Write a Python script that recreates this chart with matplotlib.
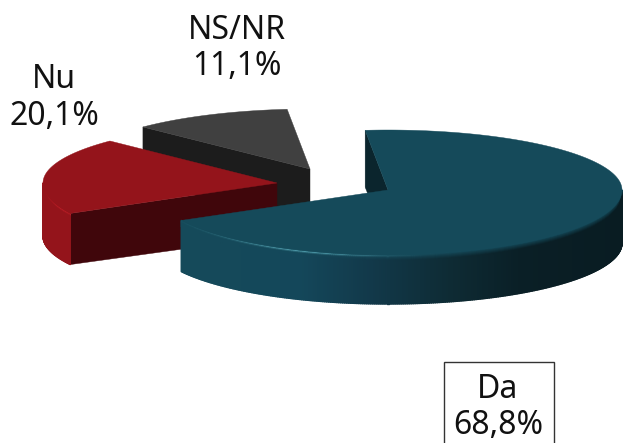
import numpy as np
import matplotlib
matplotlib.use("Agg")
import matplotlib.pyplot as plt
from matplotlib.collections import PolyCollection
from matplotlib.colors import to_rgb
from matplotlib.patches import Polygon, Rectangle

# data
categories = ["Da", "Nu", "NS/NR"]
shares = [68.8, 20.1, 11.1]

# style
top_colors = ["#154a5a", "#94141b", "#404040"]
cut_colors = ["#0b252d", "#40060b", "#1c1c1c"]
rim_stops = [
    ([180, 300, 370, 450, 520, 622],
     ["#154a5a", "#14475a", "#12394a", "#0e2b34", "#0a1f26", "#091c22"]),
    ([0, 623], ["#94141b", "#94141b"]),
    ([0, 623], ["#1c1c1c", "#1c1c1c"]),
]
highlights = [("#4a94a4", 300, 75), ("#bd1f28", 60, 22), ("#404040", 0, 1)]
centers = [(388, 190), (277, 183), (310, 169)]
RX, RY_BACK, RY_FRONT = 234, 60, 65
START = -5.6
BEVEL = 6

fig = plt.figure(figsize=(6.23, 4.43), dpi=100)
ax = fig.add_axes([0, 0, 1, 1])
ax.set_xlim(0, 623)
ax.set_ylim(443, 0)
ax.axis("off")


def rim_point(theta, center):
    t = np.radians(theta)
    ry = np.where(np.cos(t) > 0, RY_BACK, RY_FRONT)
    return center[0] + RX * np.sin(t), center[1] - ry * np.cos(t)


def depth(theta):
    return 53 + 4 * np.cos(np.radians(theta))


def rim_color(i, x, offset):
    xs, cols = rim_stops[i]
    arr = np.array([to_rgb(c) for c in cols])
    side = np.array([np.interp(x, xs, arr[:, k]) for k in range(3)])
    top = np.array(to_rgb(top_colors[i]))
    f = min(offset / BEVEL, 1.0)
    col = top + (side - top) * f
    hc, hx, hw = highlights[i]
    h = np.exp(-((x - hx) / hw) ** 2) * np.exp(-((offset - 1.5) / 1.0) ** 2)
    return tuple(col + (np.array(to_rgb(hc)) - col) * h)


def draw_slice(i, t0, t1):
    c = centers[i]
    zo = {0: 30, 1: 20, 2: 10}[i]
    # cut face at the starting edge
    x0, y0 = rim_point(t0, c)
    d0, dc = float(depth(t0)), 53
    ax.add_patch(Polygon([(x0, y0), c, (c[0], c[1] + dc), (x0, y0 + d0)],
                         closed=True, fc=cut_colors[i], ec=cut_colors[i],
                         lw=0.3, zorder=zo))
    # outer rim visible from the front
    a0, a1 = max(t0, 90), min(t1, 270)
    if a1 > a0:
        thetas = np.linspace(a0, a1, int(a1 - a0) * 2 + 2)
        offs = list(range(BEVEL + 1)) + [None]
        polys, cols = [], []
        for o0, o1 in zip(offs[:-1], offs[1:]):
            for ta, tb in zip(thetas[:-1], thetas[1:]):
                xa, ya = rim_point(ta, c)
                xb, yb = rim_point(tb, c)
                da, db = depth(ta), depth(tb)
                ua, ub = (da, db) if o1 is None else (o1, o1)
                polys.append([(xa, ya + o0), (xb, yb + o0), (xb, yb + ub), (xa, ya + ua)])
                cols.append(rim_color(i, (xa + xb) / 2, o0 + 0.5))
        ax.add_collection(PolyCollection(polys, facecolors=cols, edgecolors=cols,
                                         linewidths=1.0, zorder=zo + 1))
    # top face
    thetas = np.linspace(t0, t1, 200)
    xs, ys = rim_point(thetas, c)
    pts = [c] + list(zip(xs, ys))
    ax.add_patch(Polygon(pts, closed=True, fc=top_colors[i], ec=top_colors[i],
                         lw=0.3, zorder=zo + 2))


edges = START + np.concatenate([[0], np.cumsum(shares)]) * 3.6
for i in range(len(shares)):
    draw_slice(i, edges[i], edges[i + 1])

# labels
label_pos = [(498, 390, 426), (54, 79, 116), (237, 30, 66)]
for name, share, (x, y1, y2) in zip(categories, shares, label_pos):
    ax.text(x, y1, name, ha="center", va="center", fontsize=23,
            family="Noto Sans", color="#111111", zorder=50)
    ax.text(x, y2, f"{share:.1f}".replace(".", ",") + "%", ha="center", va="center",
            fontsize=23, family="Noto Sans", color="#111111", zorder=50)

ax.add_patch(Rectangle((443.5, 361.5), 110, 100, fc="white", ec="#333333", lw=1,
                       zorder=40, clip_on=True))

fig.savefig("out.png", dpi=100, facecolor="white")
